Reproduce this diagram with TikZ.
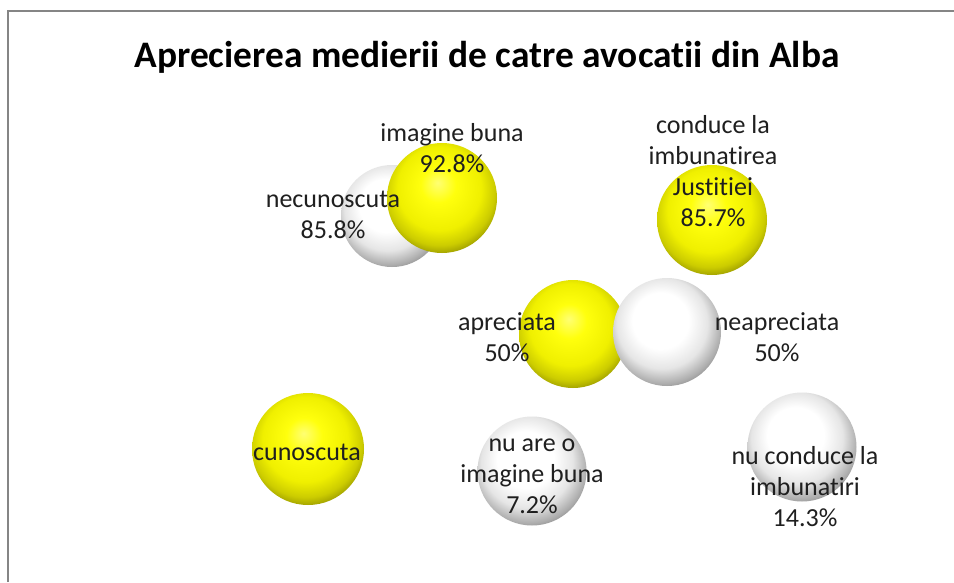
\documentclass[tikz,border=0pt]{standalone}
\usepackage{fontspec}
\setmainfont{Carlito}[Ligatures=NoCommon]
\pgfdeclareradialshading{yball}{\pgfqpoint{-2bp}{7bp}}{%
  color(0bp)=(yellow!55!white);
  color(8bp)=(yellow!95!white);
  color(19bp)=(yellow!94!black);
  color(25bp)=(yellow!80!black);
  color(29bp)=(yellow!60!black);
  color(33bp)=(yellow!50!black);
  color(50bp)=(yellow!50!black)}
\pgfdeclareradialshading{wball}{\pgfqpoint{-4bp}{7bp}}{%
  color(0bp)=(white);
  color(13bp)=(white);
  color(21bp)=(black!10);
  color(27bp)=(black!32);
  color(31bp)=(black!50);
  color(50bp)=(black!52)}
\tikzset{
  yb/.style={circle, inner sep=0pt, shade, shading=yball},
  wb/.style={circle, inner sep=0pt, shade, shading=wball},
  lab/.style={align=center, inner sep=0pt, text=black!88,
    font=\fontsize{26}{31}\selectfont},
  ttl/.style={inner sep=0pt, text=black, font=\bfseries\fontsize{37.4}{41}\selectfont},
  frame/.style={draw=black!48, line width=2pt}
}
\begin{document}
\begin{tikzpicture}[x=1pt,y=-1pt]
\useasboundingbox (0,0) rectangle (954,582);
\fill[white] (0,0) rectangle (954,582);
\draw[frame] (8,582) -- (8,11) -- (954,11);
\node[ttl, anchor=base] (title) at (487,67) {Aprecierea medierii de catre avocatii din Alba};
% spheres
\node[wb, minimum size=102pt] (snec) at (392,216) {};
\node[yb, minimum size=110pt] (simg) at (442,198) {};
\node[yb, minimum size=110pt] (sjus) at (712,220) {};
\node[yb, minimum size=108pt] (sapr) at (573,334) {};
\node[wb, minimum size=108pt] (sneap) at (667,332) {};
\node[yb, minimum size=112pt] (scun) at (308,449) {};
\node[wb, minimum size=109pt] (snuare) at (532,471) {};
\node[wb, minimum size=109pt] (snucond) at (802,447) {};
% labels
\node[lab] (limg) at (452,148) {imagine buna\\92.8\%};
\node[lab] (lnec) at (333,215) {necunoscuta\\85.8\%};
\node[lab] (ljus) at (713,171.5) {conduce la\\imbunatirea\\Justitiei\\85.7\%};
\node[lab] (lapr) at (507,337) {apreciata\\50\%};
\node[lab] (lneap) at (777,337) {neapreciata\\50\%};
\node[lab] (lcun) at (307,452) {cunoscuta};
\node[lab] (lnuare) at (532,476) {nu are o\\imagine buna\\7.2\%};
\node[lab] (lnucond) at (805,487) {nu conduce la\\imbunatiri\\14.3\%};
\end{tikzpicture}
\end{document}
